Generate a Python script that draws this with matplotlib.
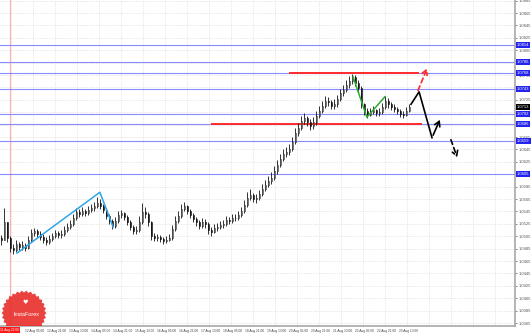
import matplotlib
matplotlib.use("Agg")
import matplotlib.pyplot as plt
import matplotlib.transforms as mtransforms
from matplotlib.patches import Polygon
import numpy as np

plt.rcParams['font.family'] = 'Liberation Sans'

# ---- candles (H1-ish bars, oldest first) ----
first_open = 1.0502
close = [1.0499, 1.0528, 1.0502, 1.0486, 1.0483, 1.0492, 1.0488, 1.0491, 1.0486, 1.0499,
         1.0510, 1.0513, 1.0509, 1.0504, 1.0499, 1.0496, 1.0501, 1.0505, 1.0510, 1.0507,
         1.0509, 1.0515, 1.0520, 1.0525, 1.0534, 1.0544, 1.0541, 1.0546, 1.0543, 1.0547,
         1.0551, 1.0554, 1.0559, 1.0554, 1.0547, 1.0538, 1.0530, 1.0522, 1.0530, 1.0539,
         1.0543, 1.0536, 1.0528, 1.0520, 1.0513, 1.0515, 1.0528, 1.0544, 1.0541, 1.0528,
         1.0505, 1.0502, 1.0504, 1.0501, 1.0497, 1.0499, 1.0502, 1.0517, 1.0530, 1.0538,
         1.0549, 1.0554, 1.0546, 1.0539, 1.0533, 1.0528, 1.0522, 1.0528, 1.0525, 1.0515,
         1.0512, 1.0518, 1.0520, 1.0523, 1.0525, 1.0531, 1.0530, 1.0534, 1.0534, 1.0539,
         1.0546, 1.0555, 1.0567, 1.0571, 1.0565, 1.0567, 1.0573, 1.0581, 1.0588, 1.0594,
         1.0599, 1.0610, 1.0620, 1.0630, 1.0638, 1.0641, 1.0646, 1.0657, 1.0672, 1.0680,
         1.0691, 1.0696, 1.0689, 1.0683, 1.0689, 1.0699, 1.0707, 1.0715, 1.0723, 1.0722,
         1.0715, 1.0718, 1.0726, 1.0736, 1.0741, 1.0749, 1.0756, 1.0762, 1.0752, 1.0744,
         1.0718, 1.0707, 1.0701, 1.0705, 1.0709, 1.0704, 1.0705, 1.0713, 1.0723, 1.0718,
         1.0713, 1.0710, 1.0707, 1.0702, 1.0701, 1.0707, 1.0713]
high = [1.0507, 1.0551, 1.0528, 1.0505, 1.0492, 1.0499, 1.0496, 1.0497, 1.0494, 1.0505,
        1.0517, 1.0518, 1.0517, 1.0513, 1.0509, 1.0504, 1.0507, 1.0510, 1.0515, 1.0513,
        1.0515, 1.0522, 1.0526, 1.0531, 1.0541, 1.0551, 1.0549, 1.0552, 1.0549, 1.0554,
        1.0557, 1.0560, 1.0568, 1.0565, 1.0557, 1.0551, 1.0541, 1.0533, 1.0536, 1.0546,
        1.0547, 1.0544, 1.0539, 1.0531, 1.0523, 1.0522, 1.0538, 1.0559, 1.0552, 1.0544,
        1.0530, 1.0510, 1.0509, 1.0507, 1.0504, 1.0505, 1.0509, 1.0523, 1.0538, 1.0546,
        1.0557, 1.0560, 1.0555, 1.0549, 1.0543, 1.0536, 1.0531, 1.0534, 1.0533, 1.0528,
        1.0520, 1.0525, 1.0526, 1.0530, 1.0531, 1.0538, 1.0536, 1.0541, 1.0541, 1.0546,
        1.0552, 1.0563, 1.0576, 1.0581, 1.0575, 1.0573, 1.0580, 1.0589, 1.0596, 1.0602,
        1.0609, 1.0618, 1.0628, 1.0638, 1.0646, 1.0649, 1.0654, 1.0665, 1.0680, 1.0688,
        1.0699, 1.0704, 1.0699, 1.0694, 1.0697, 1.0707, 1.0715, 1.0723, 1.0731, 1.0730,
        1.0725, 1.0726, 1.0733, 1.0742, 1.0749, 1.0757, 1.0763, 1.0767, 1.0765, 1.0757,
        1.0747, 1.0720, 1.0712, 1.0712, 1.0715, 1.0710, 1.0712, 1.0720, 1.0731, 1.0728,
        1.0722, 1.0718, 1.0713, 1.0710, 1.0707, 1.0713, 1.0718]
low = [1.0491, 1.0499, 1.0496, 1.0480, 1.0476, 1.0480, 1.0483, 1.0483, 1.0481, 1.0484,
       1.0496, 1.0505, 1.0502, 1.0499, 1.0494, 1.0491, 1.0492, 1.0497, 1.0502, 1.0502,
       1.0502, 1.0505, 1.0512, 1.0517, 1.0522, 1.0531, 1.0536, 1.0538, 1.0538, 1.0539,
       1.0544, 1.0546, 1.0551, 1.0549, 1.0543, 1.0533, 1.0525, 1.0517, 1.0518, 1.0526,
       1.0534, 1.0531, 1.0523, 1.0515, 1.0509, 1.0509, 1.0512, 1.0525, 1.0534, 1.0522,
       1.0499, 1.0497, 1.0497, 1.0496, 1.0492, 1.0494, 1.0497, 1.0499, 1.0513, 1.0526,
       1.0534, 1.0546, 1.0541, 1.0534, 1.0528, 1.0522, 1.0517, 1.0518, 1.0518, 1.0509,
       1.0505, 1.0510, 1.0513, 1.0517, 1.0518, 1.0522, 1.0525, 1.0526, 1.0530, 1.0531,
       1.0536, 1.0543, 1.0552, 1.0563, 1.0560, 1.0559, 1.0563, 1.0570, 1.0578, 1.0584,
       1.0589, 1.0596, 1.0605, 1.0617, 1.0626, 1.0633, 1.0636, 1.0643, 1.0654, 1.0667,
       1.0676, 1.0686, 1.0683, 1.0676, 1.0678, 1.0684, 1.0696, 1.0704, 1.0712, 1.0715,
       1.0710, 1.0710, 1.0713, 1.0723, 1.0731, 1.0738, 1.0744, 1.0751, 1.0747, 1.0738,
       1.0712, 1.0700, 1.0696, 1.0699, 1.0702, 1.0699, 1.0699, 1.0702, 1.0710, 1.0712,
       1.0709, 1.0705, 1.0702, 1.0697, 1.0696, 1.0699, 1.0705]

# ---- horizontal levels (blue) and key red levels ----
levels = [1.08135, 1.07861, 1.07684, 1.07426, 1.07022, 1.06861, 1.06587, 1.06054]
resistance = 1.07684
support = 1.06861
current_price = 1.0713

# ---- hand-drawn annotations (bar index, price) ----
blue_x, blue_y = [5.2, 32.8, 37.2], [1.0478, 1.0576, 1.0520]
green_x, green_y = [117.2, 121.8, 127.8], [1.0762, 1.0697, 1.0730]
red_dash_x, red_dash_y = [138.5, 142.2], [1.0736, 1.0780]
black_x, black_y = [136.5, 139.2, 143.5, 146.5], [1.0718, 1.0738, 1.0664, 1.0697]
black_dash_x, black_dash_y = [149.5, 152.2], [1.0665, 1.0628]

price_ticks = [round(1.0885 - 0.002 * k, 4) for k in range(27)]
date_labels = ["12 Aug 05:00", "12 Aug 21:00", "13 Aug 13:00", "14 Aug 05:00", "14 Aug 21:00",
               "15 Aug 13:00", "16 Aug 05:00", "16 Aug 21:00", "17 Aug 13:00", "18 Aug 05:00",
               "18 Aug 21:00", "19 Aug 13:00", "20 Aug 05:00", "20 Aug 21:00", "21 Aug 13:00",
               "22 Aug 05:00", "22 Aug 21:00", "23 Aug 13:00"]
cursor_label = "11 Aug 22:00"

W, H = 531, 334
fig = plt.figure(figsize=(W / 100, H / 100), dpi=100)
fig.patch.set_facecolor('white')
ax = fig.add_axes([0, 8 / H, 515 / W, 326 / H])
ax.set_xlim(-0.5, 171.17)
ax.set_ylim(1.03603, 1.08861)

# grid
grid_kw = dict(color='#d4d4d4', lw=0.5, ls=(0, (1, 1.5)), zorder=0)
for p in price_ticks:
    ax.axhline(p, **grid_kw)
step = 22 / 3
for k in range(-1, 22):
    ax.axvline(10.5 + step * k, **grid_kw)

# cursor line
ax.axvline(2.8, color='#ffb0b0', lw=0.8, zorder=1)

# blue levels
for lv in levels:
    ax.axhline(lv, color='#8a8aff', lw=0.8, zorder=2)

# red levels
ax.plot([96.2, 138.8], [resistance, resistance], color='#ff2a2a', lw=1.4, zorder=3)
ax.plot([70.2, 139.8], [support, support], color='#ff2a2a', lw=1.4, zorder=3)

# candles
x = np.arange(len(close))
opens = [first_open] + close[:-1]
ax.vlines(x, low, high, color='#111111', lw=0.6, zorder=4)
for i in range(len(close)):
    o, c = opens[i], close[i]
    bottom = min(o, c)
    h = max(abs(c - o), 0.00004)
    fc = 'white' if c >= o else '#111111'
    ax.bar(i, h, bottom=bottom, width=0.62, color=fc, edgecolor='#111111', lw=0.4, zorder=5)

# annotations
ax.plot(blue_x, blue_y, color='#2fa6e8', lw=1.1, zorder=6)
ax.plot(green_x, green_y, color='#2eaa2e', lw=1.1, zorder=6)
ax.plot(black_x[:-1], black_y[:-1], color='black', lw=1.2, zorder=6)
ax.annotate('', xy=(black_x[-1], black_y[-1]), xytext=(black_x[-2], black_y[-2]),
            arrowprops=dict(arrowstyle='->,head_length=0.35,head_width=0.2', color='black', lw=1.2), zorder=6)
ax.annotate('', xy=(red_dash_x[1], red_dash_y[1]), xytext=(red_dash_x[0], red_dash_y[0]),
            arrowprops=dict(arrowstyle='->,head_length=0.35,head_width=0.2', color='#ff2a2a', lw=1.2,
                            linestyle=(0, (3, 2))), zorder=6)
ax.annotate('', xy=(black_dash_x[1], black_dash_y[1]), xytext=(black_dash_x[0], black_dash_y[0]),
            arrowprops=dict(arrowstyle='->,head_length=0.35,head_width=0.2', color='black', lw=1.2,
                            linestyle=(0, (3, 2))), zorder=6)

# axes styling
for s in ['left', 'top']:
    ax.spines[s].set_visible(False)
for s in ['right', 'bottom']:
    ax.spines[s].set_color('#a8a8a8')
    ax.spines[s].set_linewidth(1.2)
ax.set_xticks([])
ax.yaxis.tick_right()
ax.set_yticks(price_ticks)
ax.set_yticklabels([f'{p:.4f}' for p in price_ticks])
ax.tick_params(axis='y', labelsize=3, colors='#555555', length=1.5, width=0.5, pad=1)

# price boxes on the right axis
trans = mtransforms.blended_transform_factory(ax.transAxes, ax.transData)
for lv in levels:
    ax.text(1.004, lv, f'{lv:.4f}', transform=trans, fontsize=3, color='white', va='center', ha='left',
            bbox=dict(boxstyle='square,pad=0.25', fc='#2424f0', ec='none'), clip_on=False, zorder=10)
ax.text(1.004, current_price, f'{current_price:.4f}', transform=trans, fontsize=3, color='white',
        va='center', ha='left', bbox=dict(boxstyle='square,pad=0.25', fc='black', ec='none'),
        clip_on=False, zorder=10)

# date labels
tx = mtransforms.blended_transform_factory(ax.transData, ax.transAxes)
for k, lab in enumerate(date_labels):
    ax.text(7.8 + step * k, -0.008, lab, transform=tx, fontsize=2.3, color='#444444',
            ha='left', va='top', clip_on=False)
ax.text(0, -0.006, cursor_label, transform=ax.transAxes, fontsize=2.3, color='white', ha='left', va='top',
        bbox=dict(boxstyle='square,pad=0.35', fc='#ff1a1a', ec='none'), clip_on=False, zorder=11)

# InstaForex seal (bottom-left)
n = 60
ang = np.linspace(0, 2 * np.pi, n, endpoint=False)
rad = np.where(np.arange(n) % 2 == 0, 22.5, 20.5)
px = 24 + rad * np.cos(ang)
py = 313 + rad * np.sin(ang)
seal = Polygon(np.column_stack([px / 515, 1 - py / 326]), closed=True, transform=ax.transAxes,
               fc='#e8322e', ec='none', alpha=0.92, zorder=8)
ax.add_patch(seal)
ax.text(26 / 515, 1 - 314 / 326, 'InstaForex', transform=ax.transAxes, fontsize=4, color='white',
        ha='center', va='center', zorder=9)
ax.text(25 / 515, 1 - 303 / 326, '\u2665', transform=ax.transAxes, fontsize=4.5, color='white',
        ha='center', va='center', zorder=9, family='DejaVu Sans')

fig.savefig('out.png', dpi=100, facecolor='white')
